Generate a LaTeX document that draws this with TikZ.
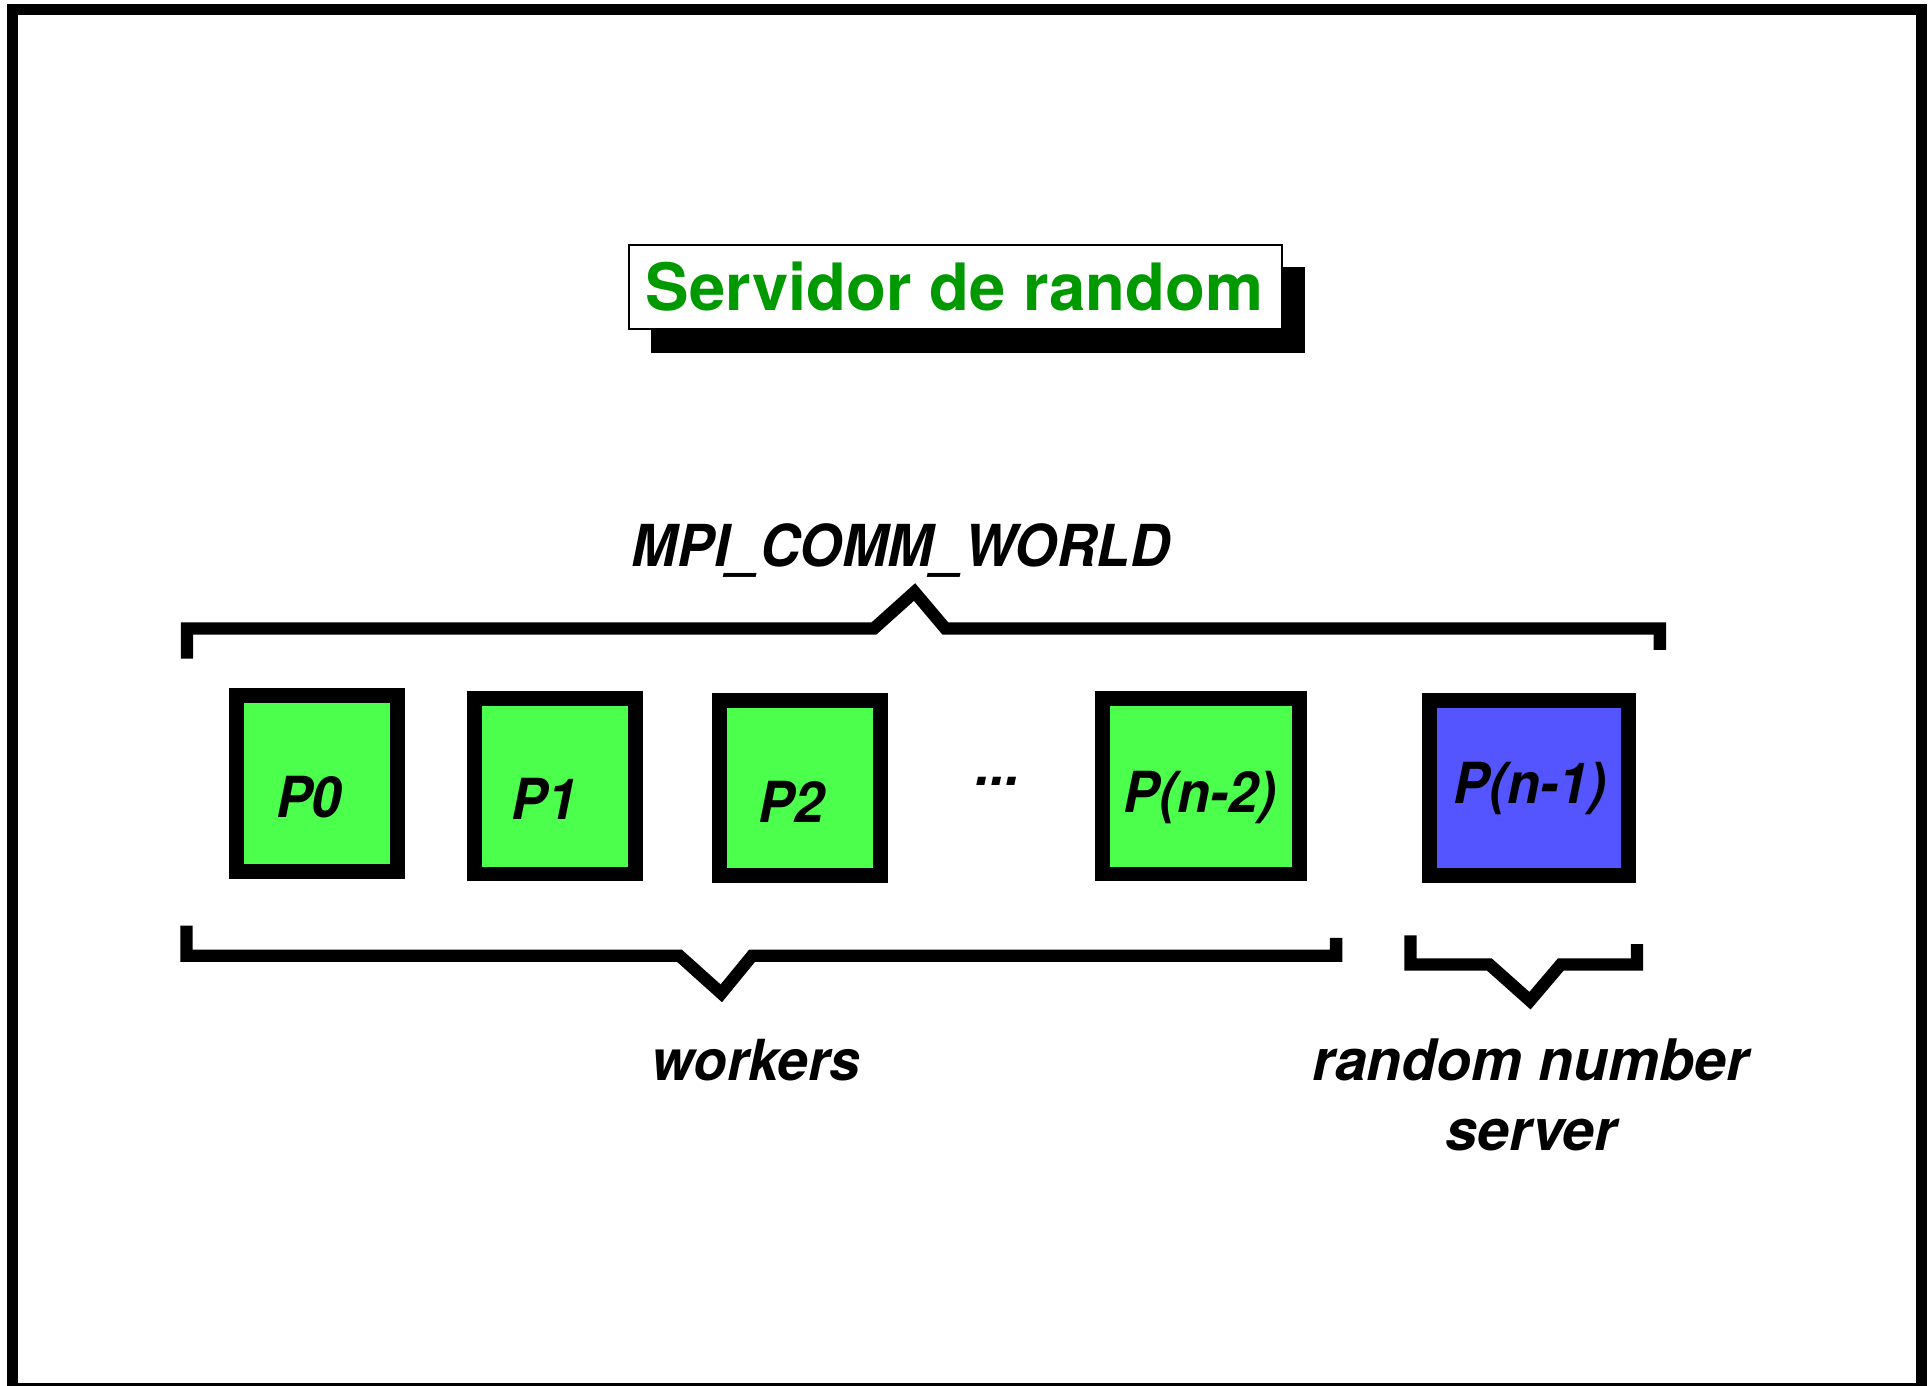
\documentclass[tikz,border=0pt]{standalone}
\usepackage{fontspec}
\newfontfamily\herosfont{TeX Gyre Heros}
\newfontfamily\heroslab[FakeStretch=0.95]{TeX Gyre Heros}
\newfontfamily\herosbot[FakeStretch=0.97]{TeX Gyre Heros}
\newfontfamily\herosbig{TeX Gyre Heros}
\definecolor{procgreen}{RGB}{77,255,77}
\definecolor{procblue}{RGB}{85,85,255}
\definecolor{titlegreen}{RGB}{0,153,0}
\tikzset{
  proc/.style={draw=black, line width=12pt, inner sep=0pt, minimum width=131pt, minimum height=142.5pt},
  lab/.style={font=\heroslab\bfseries\itshape\fontsize{46}{55}\selectfont, inner sep=0pt, anchor=base},
  botlab/.style={lab, font=\herosbot\bfseries\itshape\fontsize{46}{55}\selectfont},
  widelab/.style={lab, font=\herosbig\bfseries\itshape\fontsize{46.5}{55}\selectfont},
  brace/.style={line width=10pt, line join=miter, miter limit=10, line cap=butt},
  titlebox/.style={draw=black, fill=white, line width=1.5pt, inner sep=0pt, minimum width=530.5pt, minimum height=68pt},
  titletext/.style={font=\herosfont\bfseries\fontsize{53}{60}\selectfont, text=titlegreen, inner sep=0pt, anchor=base}
}
\begin{document}
\begin{tikzpicture}[x=1pt,y=-1pt]
\useasboundingbox (0,0) rectangle (1568,1126);
\fill[white] (0,0) rectangle (1568,1126);
% outer frame
\draw[line width=9pt] (10,7.7) rectangle (1561,1128);

% title
\fill[black] (528.5,217) rectangle (1060,287);
\node[titlebox] (title) at (776.25,233) {};
\node[titletext] (titletxt) at (775.5,252.5) {Servidor de random};

% communicator label and brace
\node[lab, font=\heroslab\bfseries\itshape\fontsize{47}{55}\selectfont] (world) at (732,460.6) {MPI\_COMM\_WORLD};
\draw[brace] (152,535) -- (152,510.6) -- (710,510.6) -- (743,481) -- (768,510.6) -- (1348.5,510.6) -- (1348.5,528);

% processes
\node[proc, fill=procgreen] (p0) at (257.5,636.5) {};
\node[proc, fill=procgreen] (p1) at (451,638.75) {};
\node[proc, fill=procgreen] (p2) at (650,640.25) {};
\node[proc, fill=procgreen, minimum width=160pt] (pn2) at (976,638.75) {};
\node[proc, fill=procblue, minimum width=161.5pt] (pn1) at (1242.25,640.25) {};

\node[lab] (l0) at (251,664.5) {P0};
\node[lab] (l1) at (442.5,665.5) {P1};
\node[lab] (l2) at (643,668) {P2};
\node[lab] (dots) at (811,638.5) {...};
\node[lab] (ln2) at (975,660) {P(n-2)};
\node[lab] (ln1) at (1243,652.5) {P(n-1)};

% workers brace
\draw[brace] (151.5,752) -- (151.5,776.5) -- (552,776.5) -- (586,807) -- (611,776.5) -- (1085.5,776.5) -- (1085.5,762);
\node[botlab] (workers) at (614,878) {workers};

% server brace
\draw[brace] (1146,760) -- (1146,783.6) -- (1210,783.6) -- (1243,813) -- (1268,783.6) -- (1330,783.6) -- (1330,767);
\node[widelab] (rnd) at (1243.5,878) {random number};
\node[widelab] (srv) at (1244,935) {server};
\end{tikzpicture}
\end{document}
